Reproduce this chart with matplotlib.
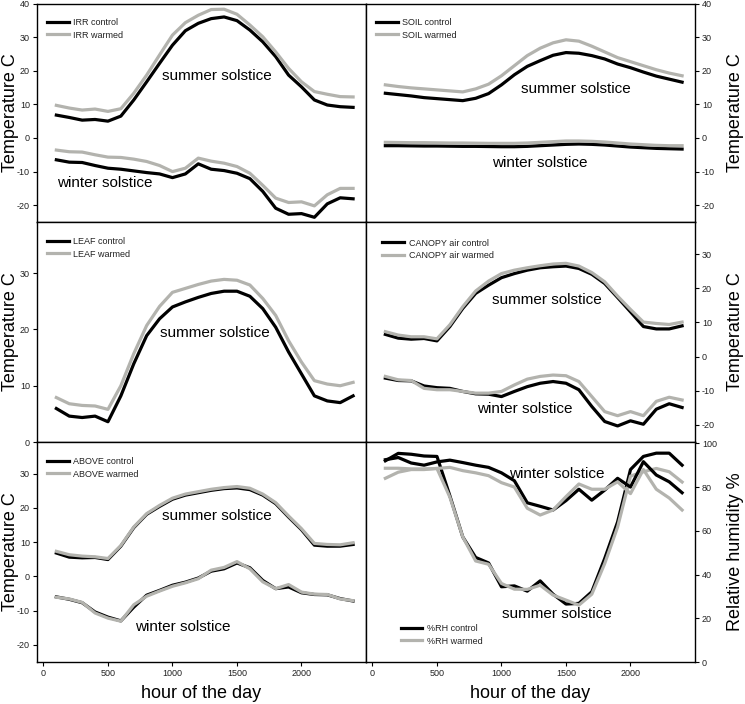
import numpy as np
import matplotlib
matplotlib.use("Agg")
import matplotlib.pyplot as plt

plt.rcParams["font.family"] = ["Liberation Sans", "DejaVu Sans"]
plt.rcParams["axes.unicode_minus"] = False

# ── data: hourly means ────────────────────────────────────────────────────────
HOURS = list(range(100, 2500, 100))

irr_sum_ctl = [6.8, 6.1, 5.3, 5.5, 5.0, 6.5, 11.3, 16.7, 22.2, 27.6, 31.9, 34.1,
               35.5, 36.0, 34.9, 32.1, 28.6, 24.2, 18.7, 15.2, 11.3, 9.8, 9.3, 9.1]
irr_sum_wrm = [9.7, 8.9, 8.3, 8.6, 7.9, 8.7, 13.3, 18.7, 24.7, 30.6, 34.3, 36.5,
               38.2, 38.3, 36.8, 33.6, 30.1, 25.6, 20.7, 16.7, 13.8, 13.0, 12.3, 12.2]
irr_win_ctl = [-6.5, -7.2, -7.3, -8.2, -9.0, -9.3, -9.8, -10.3, -10.7, -11.8, -10.7, -7.7,
               -9.3, -9.7, -10.5, -12.1, -15.9, -20.9, -22.7, -22.5, -23.6, -19.6, -17.8, -18.1]
irr_win_wrm = [-3.6, -4.1, -4.2, -5.0, -5.7, -5.8, -6.3, -7.0, -8.2, -10.0, -9.0, -6.0,
               -6.9, -7.5, -8.5, -10.5, -14.1, -17.9, -19.2, -19.0, -20.2, -16.9, -15.0, -15.0]

soil_sum_ctl = [13.3, 12.9, 12.5, 12.0, 11.7, 11.4, 11.1, 11.8, 13.2, 15.8, 18.8, 21.3,
                23.0, 24.6, 25.4, 25.2, 24.5, 23.5, 22.0, 20.9, 19.6, 18.4, 17.5, 16.6]
soil_sum_wrm = [15.8, 15.3, 14.9, 14.6, 14.3, 14.0, 13.7, 14.6, 16.0, 18.5, 21.5, 24.5,
                26.7, 28.3, 29.2, 28.8, 27.3, 25.6, 23.9, 22.7, 21.5, 20.3, 19.3, 18.5]
soil_win_ctl = [-2.3, -2.3, -2.35, -2.4, -2.4, -2.45, -2.5, -2.5, -2.55, -2.6, -2.6, -2.5,
                -2.3, -2.1, -1.9, -1.8, -1.9, -2.1, -2.4, -2.7, -2.9, -3.1, -3.2, -3.3]
soil_win_wrm = [-1.3, -1.35, -1.4, -1.4, -1.45, -1.5, -1.5, -1.55, -1.6, -1.6, -1.6, -1.5,
                -1.3, -1.1, -0.9, -0.9, -1.0, -1.2, -1.5, -1.8, -2.0, -2.2, -2.3, -2.3]

leaf_sum_ctl = [5.95, 4.6, 4.35, 4.6, 3.6, 8.2, 13.9, 18.9, 21.9, 24.0, 24.9, 25.7,
                26.4, 26.8, 26.8, 25.9, 23.7, 20.4, 16.0, 12.1, 8.2, 7.3, 7.0, 8.2]
leaf_sum_wrm = [7.9, 6.8, 6.5, 6.4, 5.8, 10.0, 15.7, 20.7, 24.1, 26.6, 27.3, 28.0,
                28.6, 28.9, 28.75, 27.9, 25.5, 22.5, 18.0, 14.2, 10.9, 10.3, 10.0, 10.6]

can_sum_ctl = [6.5, 5.4, 5.1, 5.3, 4.6, 8.8, 14.1, 18.5, 20.9, 23.1, 24.3, 25.3,
               26.0, 26.3, 26.5, 25.8, 24.1, 21.4, 17.3, 13.1, 8.8, 8.1, 8.1, 9.0]
can_sum_wrm = [7.3, 6.3, 5.8, 5.8, 5.2, 9.3, 14.6, 19.2, 22.1, 24.3, 25.3, 26.0,
               26.6, 27.1, 27.3, 26.5, 24.6, 21.9, 17.7, 13.8, 10.1, 9.7, 9.4, 10.1]
can_win_ctl = [-6.3, -7.0, -7.1, -8.6, -9.1, -9.3, -10.2, -10.9, -11.0, -11.7, -10.2, -8.8,
               -7.8, -7.3, -7.8, -9.7, -14.6, -19.0, -20.3, -18.8, -19.8, -15.4, -13.8, -14.9]
can_win_wrm = [-5.8, -6.8, -7.0, -9.3, -9.7, -9.7, -10.2, -10.7, -10.7, -10.2, -8.3, -6.6,
               -5.8, -5.4, -5.6, -7.3, -11.7, -16.1, -17.3, -16.1, -17.3, -13.1, -11.9, -12.7]

abv_sum_ctl = [6.8, 5.6, 5.4, 5.5, 4.9, 8.8, 14.2, 18.1, 20.4, 22.5, 23.7, 24.4,
               25.1, 25.6, 25.8, 25.3, 23.7, 21.2, 17.3, 13.6, 9.1, 8.8, 8.8, 9.3]
abv_sum_wrm = [7.3, 6.3, 5.9, 5.7, 5.2, 9.0, 14.4, 18.3, 20.7, 22.8, 24.0, 24.7,
               25.4, 25.9, 26.2, 25.7, 24.0, 21.5, 17.6, 13.9, 9.6, 9.3, 9.2, 9.8]
abv_win_ctl = [-6.0, -6.7, -7.7, -10.4, -11.9, -13.0, -9.0, -5.5, -4.1, -2.6, -1.7, -0.5,
               1.5, 2.2, 3.9, 2.5, -1.2, -3.6, -3.1, -4.8, -5.3, -5.4, -6.5, -7.2]
abv_win_wrm = [-6.1, -6.6, -7.6, -10.7, -12.2, -13.1, -8.3, -5.8, -4.3, -2.9, -1.9, -0.7,
               1.8, 2.6, 4.3, 2.2, -1.6, -3.6, -2.4, -4.6, -5.2, -5.3, -6.6, -7.1]

rh_sum_ctl = [92, 95.4, 95, 94.2, 94, 76, 57.2, 47.8, 45.3, 34.4, 34.8, 32.4,
              37.1, 31, 26.5, 26.8, 32.1, 47.3, 64, 88, 94, 95.5, 95.5, 90]
rh_sum_wrm = [88.6, 88.6, 88.3, 88.3, 88.5, 75.4, 57.2, 46.2, 44.7, 35.9, 33.3, 33.2,
              35.1, 30.6, 28.3, 26, 31, 45, 61.7, 85, 87, 88.5, 87, 82.3]
rh_win_ctl = [92.5, 93.5, 91, 90, 91.5, 92.3, 91.2, 90, 89, 86.5, 82.9, 72.8,
              71.2, 69.5, 73.8, 79, 74, 78.6, 84, 80, 91.6, 85.5, 82.4, 77.4]
rh_win_wrm = [84, 86.8, 88, 88, 88.5, 89, 87.5, 86.5, 85.2, 82, 80, 70.3,
              67.2, 69.5, 75.6, 81.4, 79, 79, 82.4, 77, 88, 79, 75, 69.5]

CTL = "black"
WRM = "#b3b3ae"
LW = 2.3

# ── layout in pixels (745 x 704), panels touch each other ─────────────────────
W, H = 745, 704
fig = plt.figure(figsize=(W / 100, H / 100), dpi=100)


def make_ax(x0, x1, y_top, y_bot):
    return fig.add_axes([x0 / W, (H - y_bot) / H, (x1 - x0) / W, (y_bot - y_top) / H])


def style(ax, side, ylim, yticks, bottom_row, legend_labels, leg_xy, leg_loc="upper left"):
    ax.set_xlim(-50, 2500)
    ax.set_ylim(*ylim)
    ax.set_yticks(yticks)
    for sp in ax.spines.values():
        sp.set_linewidth(1.0)
    ax.tick_params(direction="out", length=3, width=0.8, labelsize=6.5,
                   labelcolor="#222222", pad=2)
    if side == "right":
        ax.yaxis.tick_right()
        ax.yaxis.set_label_position("right")
    if bottom_row:
        ax.set_xticks([0, 500, 1000, 1500, 2000])
        ax.set_xlabel("hour of the day", fontsize=13)
        ax.xaxis.set_label_coords(0.5, -0.105)
    else:
        ax.set_xticks([])
    leg = ax.legend(legend_labels, loc=leg_loc, bbox_to_anchor=leg_xy, frameon=False,
                    fontsize=6.5, handlelength=2.4, handletextpad=0.5,
                    labelspacing=0.35, borderpad=0, borderaxespad=0)
    for t in leg.get_texts():
        t.set_color("#222222")


def temp_label(ax, side):
    ax.set_ylabel("Temperature C", fontsize=13)
    if side == "left":
        ax.yaxis.set_label_coords(-0.055, 0.5)
    else:
        ax.yaxis.set_label_coords(1.098, 0.5)


LX0, LX1, RX0, RX1 = 37, 366, 366, 695
ROWS = [(3.5, 222), (222, 442), (442, 662)]

# ── IRR ───────────────────────────────────────────────────────────────────────
ax = make_ax(LX0, LX1, *ROWS[0])
ax.plot(HOURS, irr_sum_ctl, color=CTL, lw=LW)
ax.plot(HOURS, irr_sum_wrm, color=WRM, lw=LW)
ax.plot(HOURS, irr_win_ctl, color=CTL, lw=LW)
ax.plot(HOURS, irr_win_wrm, color=WRM, lw=LW)
ax.text(920, 18.4, "summer solstice", fontsize=11, va="center")
ax.text(105, -13.4, "winter solstice", fontsize=11, va="center")
style(ax, "left", (-25, 40), range(-20, 41, 10), False,
      ["IRR control", "IRR warmed"], (0.03, 0.932))
temp_label(ax, "left")

# ── SOIL ──────────────────────────────────────────────────────────────────────
ax = make_ax(RX0, RX1, *ROWS[0])
ax.plot(HOURS, soil_sum_ctl, color=CTL, lw=LW)
ax.plot(HOURS, soil_sum_wrm, color=WRM, lw=LW)
ax.plot(HOURS, soil_win_ctl, color=CTL, lw=LW)
ax.plot(HOURS, soil_win_wrm, color=WRM, lw=LW)
ax.text(1153, 14.5, "summer solstice", fontsize=11, va="center")
ax.text(929, -7.5, "winter solstice", fontsize=11, va="center")
style(ax, "right", (-25, 40), range(-20, 41, 10), False,
      ["SOIL control", "SOIL warmed"], (0.03, 0.932))
temp_label(ax, "right")

# ── LEAF ──────────────────────────────────────────────────────────────────────
ax = make_ax(LX0, LX1, *ROWS[1])
ax.plot(HOURS, leaf_sum_ctl, color=CTL, lw=LW)
ax.plot(HOURS, leaf_sum_wrm, color=WRM, lw=LW)
ax.text(906, 19.3, "summer solstice", fontsize=11, va="center")
style(ax, "left", (0, 39.1), range(0, 31, 10), False,
      ["LEAF control", "LEAF warmed"], (0.03, 0.93))
temp_label(ax, "left")

# ── CANOPY air ────────────────────────────────────────────────────────────────
ax = make_ax(RX0, RX1, *ROWS[1])
ax.plot(HOURS, can_sum_ctl, color=CTL, lw=LW)
ax.plot(HOURS, can_sum_wrm, color=WRM, lw=LW)
ax.plot(HOURS, can_win_ctl, color=CTL, lw=LW)
ax.plot(HOURS, can_win_wrm, color=WRM, lw=LW)
ax.text(923, 16.6, "summer solstice", fontsize=11, va="center")
ax.text(807, -15.4, "winter solstice", fontsize=11, va="center")
style(ax, "right", (-25, 39.4), range(-20, 31, 10), False,
      ["CANOPY air control", "CANOPY air warmed"], (0.05, 0.925))
temp_label(ax, "right")

# ── ABOVE ─────────────────────────────────────────────────────────────────────
ax = make_ax(LX0, LX1, *ROWS[2])
ax.plot(HOURS, abv_sum_ctl, color=CTL, lw=LW)
ax.plot(HOURS, abv_sum_wrm, color=WRM, lw=LW)
ax.plot(HOURS, abv_win_ctl, color=CTL, lw=LW)
ax.plot(HOURS, abv_win_wrm, color=WRM, lw=LW)
ax.text(920, 17.5, "summer solstice", fontsize=11, va="center")
ax.text(709, -14.8, "winter solstice", fontsize=11, va="center")
style(ax, "left", (-25, 39.2), range(-20, 31, 10), True,
      ["ABOVE control", "ABOVE warmed"], (0.03, 0.93))
temp_label(ax, "left")

# ── relative humidity ─────────────────────────────────────────────────────────
ax = make_ax(RX0, RX1, *ROWS[2])
ax.plot(HOURS, rh_sum_ctl, color=CTL, lw=LW)
ax.plot(HOURS, rh_sum_wrm, color=WRM, lw=LW)
ax.plot(HOURS, rh_win_ctl, color=CTL, lw=LW)
ax.plot(HOURS, rh_win_wrm, color=WRM, lw=LW)
ax.text(1057, 86, "winter solstice", fontsize=11, va="center")
ax.text(1006, 21.9, "summer solstice", fontsize=11, va="center")
style(ax, "right", (0, 100.6), range(0, 101, 20), True,
      ["%RH control", "%RH warmed"], (0.105, 0.075), leg_loc="lower left")
ax.set_ylabel("Relative humidity %", fontsize=13)
ax.yaxis.set_label_coords(1.098, 0.5)

fig.savefig("out.png", dpi=100)
